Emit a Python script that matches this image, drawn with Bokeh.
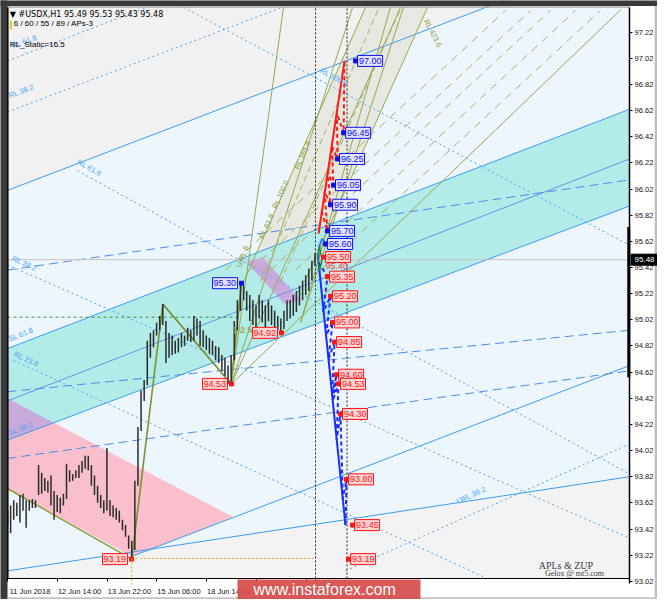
import math
from bokeh.plotting import figure
from bokeh.models import Range1d, FixedTicker, Label
from bokeh.core.properties import value
from bokeh.embed import file_html
from bokeh.resources import INLINE

# ---------------- data (x = H1 bar index from the chart's left edge, y = price) ----------------
bar_idx = list(range(0, 200, 2))
bar_high = [93.56, 93.60, 93.64, 93.62, 93.68, 93.69, 93.64, 93.64, 93.65, 93.64,
            93.91, 93.85, 93.81, 93.79, 93.83, 93.71, 93.68, 93.66, 93.69, 93.92,
            93.87, 93.84, 93.87, 93.91, 93.94, 93.98, 93.98, 93.91, 93.83, 93.75,
            93.68, 93.64, 94.04, 93.64, 93.60, 93.58, 93.56, 93.49, 93.45, 93.37,
            93.33, 93.79, 94.20, 94.48, 94.56, 94.86, 94.92, 94.94, 95.00, 95.05,
            95.14, 95.01, 94.92, 94.90, 94.86, 94.88, 94.92, 94.90, 94.96, 94.94,
            95.05, 95.03, 95.01, 94.94, 94.90, 94.88, 94.86, 94.82, 94.81, 94.75,
            94.73, 94.67, 94.75, 95.01, 95.17, 95.31, 95.28, 95.24, 95.21, 95.17,
            95.13, 95.21, 95.17, 95.13, 95.17, 95.13, 95.09, 95.05, 95.03, 95.09,
            95.17, 95.17, 95.21, 95.24, 95.28, 95.32, 95.36, 95.41, 95.47, 95.53]
bar_low = [93.45, 93.39, 93.49, 93.52, 93.47, 93.56, 93.43, 93.56, 93.58, 93.58,
           93.68, 93.69, 93.71, 93.70, 93.60, 93.49, 93.55, 93.54, 93.60, 93.65,
           93.78, 93.79, 93.81, 93.81, 93.85, 93.88, 93.87, 93.75, 93.68, 93.62,
           93.58, 93.54, 93.56, 93.52, 93.51, 93.49, 93.47, 93.41, 93.36, 93.27,
           93.19, 93.26, 93.75, 94.17, 94.40, 94.52, 94.73, 94.81, 94.90, 94.94,
           94.98, 94.69, 94.73, 94.75, 94.76, 94.77, 94.81, 94.82, 94.86, 94.85,
           94.86, 94.90, 94.82, 94.81, 94.79, 94.76, 94.75, 94.71, 94.69, 94.63,
           94.59, 94.53, 94.53, 94.71, 94.94, 95.09, 95.17, 95.09, 95.01, 94.98,
           94.94, 95.03, 95.00, 94.95, 95.01, 94.98, 94.95, 94.94, 94.92, 94.95,
           95.01, 95.03, 95.05, 95.08, 95.13, 95.17, 95.21, 95.24, 95.32, 95.43]

header_text = "\u25bc #USDX,H1  95.49 95.53 95.43 95.48"
last_close = 95.48

y_tick_labels = ["93.02", "93.22", "93.42", "93.62", "93.82", "94.02", "94.22", "94.42",
                 "94.62", "94.82", "95.02", "95.22", "95.42", "95.62", "95.82", "96.02",
                 "96.22", "96.42", "96.62", "96.82", "97.02", "97.22"]
x_tick_pos = [0.3, 32.2, 64.3, 96.2, 128.2, 160.2, 192.2]
x_tick_labels = ["11 Jun 2018", "12 Jun 14:00", "13 Jun 22:00", "15 Jun 06:00",
                 "18 Jun 14:00", "19 Jun 22:00", "21 Jun 06:00"]

# whole canvas in data units; the chart window itself spans 0..FRAME_RIGHT, FRAME_BOTTOM..FRAME_TOP
X_RANGE = (-4.507, 418.5)
Y_RANGE = (92.881, 97.462)
FRAME_RIGHT = 400.5
FRAME_BOTTOM = 93.042
FRAME_TOP = 97.412
PX_PER_BAR = 1.553

line_A = (0, 96.01, 400.5, 97.83)
line_E = (0, 93.10, 400.5, 93.82)
line_B = (0, 94.80, 400.5, 96.63)
line_C = (0, 94.10, 400.5, 95.89)
line_D = (0, 94.40, 400.5, 96.25)
line_F = (79.85, 93.21, 400.5, 94.67)
long_dash_lines = [(0, 95.40, 400.5, 96.09), (0, 94.47, 400.5, 94.94), (0, 93.96, 400.5, 94.63)]
dotted_lines = [(0, 97.00, 89.5, 97.41), (0, 96.61, 177, 97.41), (113.3, 97.41, 400.5, 95.59),
                (45.07, 96.16, 400.5, 93.84), (0, 95.44, 400.5, 93.35), (3.86, 94.71, 309.1, 93.04),
                (217.6, 93.10, 400.5, 94.07)]

pink_x = [0, 145.5, 79.85, 0]
pink_y = [94.42, 93.51, 93.21, 93.73]
lav1_x = [0, 0, 29.9]
lav1_y = [94.42, 94.10, 94.23]
lav2_x = [153.9, 164.2, 188.7, 178.4]
lav2_y = [95.46, 95.50, 95.17, 95.14]
band_x = [152.0, 230.5, 270.4, 191.2]
band_y = [95.31, 97.41, 97.41, 95.31]

zup_x = [0, 80, 100, 144, 150.7]
zup_y = [93.73, 93.19, 95.14, 94.53, 95.31]
pivot = (144.2, 94.53)
fan_top_x = [177.7, 222.2, 253.1, 394.7]
fan_top_y = [97.41, 97.41, 97.41, 97.39]
fan2_start = (188.7, 95.00)
fan2_top_x = [246.6, 255.0]
olive_dash_x0 = [140.4, 156.5, 169.4, 185.4, 201.5]
olive_dash_x1 = [320.7, 336.8, 349.6, 365.7, 381.8]
olive_dash_y0 = 95.40
olive_dash_y1 = 97.386
band_inner = [(162.9, 95.31, 238.9, 97.40), (175.8, 95.31, 253.1, 97.40)]

now_x = 198.3
target_x = 218.6
low_level = 93.195
low_x = 80

red_solid_x = [200.3, 217.0]
red_solid_y = [95.68, 97.00]
red_zz_x = [202.2, 206.05, 204.1, 208.0, 206.2, 209.9, 208.8, 212.5, 212.1, 216.4, 217.0]
red_zz_y = [95.85, 95.70, 96.00, 95.90, 96.15, 96.05, 96.35, 96.25, 96.60, 96.45, 97.00]
blue_solid_x = [200.3, 217.6]
blue_solid_y = [95.46, 93.45]
blue_zz_x = [200.3, 206.05, 203.2, 208.0, 205.1, 209.3, 206.7, 210.6, 209.0, 211.9, 209.4,
             213.1, 211.9, 214.4, 215.9, 218.3, 217.6]
blue_zz_y = [95.46, 95.35, 95.08, 95.20, 94.90, 95.00, 94.72, 94.85, 94.45, 94.60, 94.40,
             94.53, 94.10, 94.30, 93.65, 93.80, 93.45]

up_label_price = [97.00, 96.45, 96.25, 96.05, 95.90, 95.70, 95.60]
up_label_x = [224.1, 216.4, 212.5, 209.9, 208.0, 206.05, 204.8]
down_label_price = [95.50, 95.35, 95.20, 95.00, 94.85, 94.60, 94.53, 94.30, 93.80, 93.45, 93.19]
down_label_x = [203.5, 206.05, 208.0, 209.3, 210.6, 211.9, 213.1, 214.4, 218.3, 222.2, 219.6]
left_blue_price = [95.30]
left_blue_x = [150.7]
left_red_price = [94.53, 94.92, 93.19]
left_red_x = [144.2, 176.4, 79.85]

blue_note_text = ["RL 61.8", "RL 38.2", "RL 61.8", "RL 100.0", "RL 38.2", "SL 61.8", "RL 23.6", "SL 38.2", "LWL 38.2"]
blue_note_x = [3.9, 2.0, 43.8, 200.3, 2.0, 2.0, 3.2, 2.0, 290.4]
blue_note_y = [97.08, 96.70, 96.20, 96.90, 95.46, 94.84, 94.73, 94.12, 93.60]
blue_note_angle = [0.36, 0.36, -0.5, -0.49, -0.41, 0.38, -0.43, 0.36, 0.41]
olive_note_text = ["RL 161.8", "RL 100.0", "RL 61.8", "UWL 6", "RL 423.6"]
olive_note_x = [188.7, 174.5, 166.1, 151.3, 272.0]
olive_note_y = [96.16, 95.86, 95.63, 95.41, 97.33]
olive_note_angle = [1.15, 1.15, 1.15, 1.2, -1.1]
olive_note_base = ["bottom", "bottom", "bottom", "bottom", "top"]

watermark_text = "www.instaforex.com"

# ---------------- figure ----------------
p = figure(width=657, height=599, output_backend="svg", toolbar_location=None,
           x_range=Range1d(*X_RANGE), y_range=Range1d(*Y_RANGE), y_axis_location="right",
           min_border_left=0, min_border_top=0, min_border_right=0, min_border_bottom=0)
p.grid.visible = False
p.background_fill_color = "#eef6fd"
p.border_fill_color = "white"
p.outline_line_color = None

yt = [float(s) for s in y_tick_labels]
p.yaxis.fixed_location = FRAME_RIGHT
p.yaxis.bounds = (93.0, FRAME_TOP)
p.yaxis.ticker = FixedTicker(ticks=yt)
p.yaxis.major_label_overrides = {v: s for v, s in zip(yt, y_tick_labels)}
p.yaxis.major_label_text_font = "Liberation Sans"
p.yaxis.major_label_text_font_size = "7.5px"
p.yaxis.major_label_text_color = "#111111"
p.yaxis.major_label_standoff = 2
p.yaxis.major_tick_in = 0
p.yaxis.major_tick_out = 3
p.yaxis.minor_tick_line_color = None
p.yaxis.axis_line_color = "black"
p.yaxis.axis_line_width = 1.5

label_centres = [t + 14.2 for t in x_tick_pos]
p.xaxis.fixed_location = FRAME_BOTTOM
p.xaxis.bounds = (0, FRAME_RIGHT)
p.xaxis.ticker = FixedTicker(ticks=label_centres, minor_ticks=x_tick_pos)
p.xaxis.major_label_overrides = {v: s for v, s in zip(label_centres, x_tick_labels)}
p.xaxis.major_label_text_font = "Liberation Sans"
p.xaxis.major_label_text_font_size = "7.5px"
p.xaxis.major_label_text_color = "#111111"
p.xaxis.major_label_standoff = 3
p.xaxis.major_tick_line_color = None
p.xaxis.minor_tick_in = 0
p.xaxis.minor_tick_out = 3
p.xaxis.minor_tick_line_color = "black"
p.xaxis.axis_line_color = "black"

Y_TOP = Y_RANGE[1] + 1
Y_BOT = Y_RANGE[0] - 1

# background zones
p.patch([line_A[0], line_A[2], line_A[2], line_A[0]], [line_A[1], line_A[3], Y_TOP, Y_TOP],
        fill_color="#f1f1f1", line_color=None)
p.patch([line_E[0], line_E[2], line_E[2], line_E[0]], [line_E[1], line_E[3], Y_BOT, Y_BOT],
        fill_color="#f3f3f3", line_color=None)
p.patch(band_x, band_y, fill_color="#e7e8e1", line_color=None)
p.patch(pink_x, pink_y, fill_color="#f9bfcc", line_color=None)
p.patch([line_B[0], line_B[2], line_C[2], line_C[0]], [line_B[1], line_B[3], line_C[3], line_C[1]],
        fill_color="#b2ebe8", line_color=None)
p.patch(lav1_x, lav1_y, fill_color="#c8aadc", line_color=None)
p.patch(lav2_x, lav2_y, fill_color="#c8aadc", line_color=None)

def seg(l, **kw):
    p.line([l[0], l[2]], [l[1], l[3]], **kw)

for l in (line_A, line_B, line_C, line_E, line_F):
    seg(l, line_color="#3d9cf0", line_width=1)
seg(line_D, line_color="#6b8fe6", line_width=1)
for l in long_dash_lines:
    seg(l, line_color="#4a8de8", line_width=1, line_dash="9 5")
for l in dotted_lines:
    seg(l, line_color="#4aa3f2", line_width=1, line_dash="2 3")

seg((zup_x[0], zup_y[0], zup_x[1], zup_y[1]), line_color="#8aa03c", line_width=1.5)
p.line(zup_x[1:], zup_y[1:], line_color="#7d9132", line_width=1.6)
for tx, ty in zip(fan_top_x, fan_top_y):
    seg((pivot[0], pivot[1], tx, ty), line_color="#94a84e", line_width=1)
for tx in fan2_top_x:
    seg((fan2_start[0], fan2_start[1], tx, FRAME_TOP), line_color="#94a84e", line_width=1)
seg((band_x[0], band_y[0], band_x[1], band_y[1]), line_color="#94a84e", line_width=1)
seg((band_x[3], band_y[3], band_x[2], band_y[2]), line_color="#94a84e", line_width=1)
for l in band_inner:
    seg(l, line_color="#a3b060", line_width=1, line_dash="6 4")
for x0, x1 in zip(olive_dash_x0, olive_dash_x1):
    seg((x0, olive_dash_y0, x1, olive_dash_y1), line_color="#a3b060", line_width=1, line_dash="8 6")

p.line([0, 150], [95.04, 95.04], line_color="#3c8c3c", line_width=1, line_dash="3 3")
p.line([0, FRAME_RIGHT], [last_close, last_close], line_color="#c4c4c4", line_width=1)
p.line([low_x, now_x], [low_level, low_level], line_color="#f0a030", line_width=1, line_dash="2 2")
p.line([now_x, now_x], [FRAME_BOTTOM, Y_TOP], line_color="#222222", line_width=1, line_dash="2 2")
p.line([target_x, target_x], [FRAME_BOTTOM, Y_TOP], line_color="#222222", line_width=1, line_dash="2 2")

# price bars
p.segment(x0=bar_idx, y0=bar_low, x1=bar_idx, y1=bar_high, line_color="#2b2b2b", line_width=1.5)

# projections
p.line(red_solid_x, red_solid_y, line_color="#ff1a1a", line_width=2)
p.line(red_zz_x, red_zz_y, line_color="#ff1a1a", line_width=2, line_dash="4 3")
p.line(blue_solid_x, blue_solid_y, line_color="#1a2cff", line_width=2)
p.line(blue_zz_x, blue_zz_y, line_color="#1a2cff", line_width=2, line_dash="4 3")
p.line([200.3, 200.6, 202.5, 204.8], [95.46, 95.58, 95.64, 95.61], line_color="#1a6cff", line_width=1.5)
p.line([199.5, 201.0, 202.5, 201.0, 199.5], [95.50, 95.58, 95.47, 95.40, 95.50], line_color="#1e8c1e", line_width=1.2)

# rotated line notes
p.text(x=blue_note_x, y=blue_note_y, text=blue_note_text, angle=blue_note_angle,
       text_font=value("Liberation Sans"), text_font_size="7.5px", text_color="#4aa3f2",
       text_baseline="bottom")
p.text(x=olive_note_x, y=olive_note_y, text=olive_note_text, angle=olive_note_angle,
       text_font=value("Liberation Sans"), text_font_size="7.5px", text_color="#8a9a3a",
       text_baseline=olive_note_base)
p.text(x=[144.9], y=[94.94], text=["1.2 M"], text_font=value("Liberation Sans"),
       text_font_size="9px", text_font_style="bold", text_color="#9aaa50", text_baseline="middle")
p.text(x=[204.8], y=[95.43], text=["95.40"], text_font=value("Liberation Sans"),
       text_font_size="9px", text_color="#ff4040", text_baseline="middle")

# price boxes: marker + framed text
BOX_W, BOX_H = 25, 11
def boxes(xs, ys, color, fill, side):
    texts = ["%.2f" % v for v in ys]
    if side == "right":
        cx = [x + (2 + BOX_W / 2) / PX_PER_BAR for x in xs]
        tx = [x + 3.5 / PX_PER_BAR for x in xs]
        align = "left"
    else:
        cx = [x - (4 + BOX_W / 2) / PX_PER_BAR for x in xs]
        tx = [x - 5.5 / PX_PER_BAR for x in xs]
        align = "right"
    p.rect(x=cx, y=ys, width=BOX_W, height=BOX_H, width_units="screen", height_units="screen",
           fill_color=fill, line_color=color, line_width=1)
    p.text(x=tx, y=ys, text=texts, text_align=align, text_baseline="middle",
           text_font=value("Liberation Sans"), text_font_size="9px", text_color=color)
    p.scatter(xs, ys, marker="square", size=4, fill_color=color, line_color=color)

boxes(up_label_x, up_label_price, "#1010ee", "#e2e4ff", "right")
boxes(down_label_x, down_label_price, "#ff1515", "#ffd4d4", "right")
boxes(left_blue_x, left_blue_price, "#1010ee", "#e2e4ff", "left")
boxes(left_red_x, left_red_price, "#ff1515", "#ffd4d4", "left")

# window frame and axis areas
XL, XR = X_RANGE[0] - 5, X_RANGE[1] + 5
p.patch([FRAME_RIGHT, XR, XR, FRAME_RIGHT], [Y_BOT, Y_BOT, Y_TOP, Y_TOP], fill_color="white", line_color=None)
p.patch([XL, FRAME_RIGHT, FRAME_RIGHT, XL], [Y_BOT, Y_BOT, FRAME_BOTTOM, FRAME_BOTTOM],
        fill_color="white", line_color=None)
p.patch([XL, 0, 0, XL], [Y_BOT, Y_BOT, Y_TOP, Y_TOP], fill_color="#3a3a3a", line_color=None)
p.patch([XL, XR, XR, XL], [FRAME_TOP + 0.008, FRAME_TOP + 0.008, Y_TOP, Y_TOP], fill_color="#3a3a3a", line_color=None)
p.patch([416.7, XR, XR, 416.7], [Y_BOT, Y_BOT, FRAME_TOP + 0.008, FRAME_TOP + 0.008], fill_color="#bdbdbd", line_color=None)
p.patch([0, XR, XR, 0], [Y_BOT, Y_BOT, 92.898, 92.898], fill_color="#c4c4c4", line_color=None)
p.line([0.2, 0.2], [FRAME_BOTTOM, FRAME_TOP], line_color="black", line_width=1.5)
p.line([0, FRAME_RIGHT], [FRAME_TOP, FRAME_TOP], line_color="#8a8a8a", line_width=1)
p.line([FRAME_RIGHT - 0.5, FRAME_RIGHT - 0.5], [94.58, 95.73], line_color="black", line_width=3)
p.line([low_x, low_x], [low_level, 92.98], line_color="#f0a030", line_width=1, line_dash="2 2")
p.line([now_x, now_x], [92.99, FRAME_BOTTOM], line_color="#222222", line_width=1, line_dash="2 2")

# current price tag on the axis
p.rect(x=[FRAME_RIGHT + 15 / PX_PER_BAR], y=[last_close], width=27, height=11,
       width_units="screen", height_units="screen", fill_color="black", line_color="black", level="overlay")
p.text(x=[FRAME_RIGHT + 15 / PX_PER_BAR], y=[last_close], text=["%.2f" % last_close], text_align="center",
       text_baseline="middle", text_font=value("Liberation Sans"), text_font_size="8px",
       text_color="white", level="overlay")

# watermark
p.rect(x=[207.0], y=[92.923], width=183, height=29, width_units="screen", height_units="screen",
       fill_color="#d64b4b", fill_alpha=0.93, line_color=None, level="overlay")
p.text(x=[158.4], y=[92.958], text=[watermark_text], text_align="left", text_baseline="middle",
       text_font=value("Liberation Sans"), text_font_size="16px", text_color="white", level="overlay")

def lab(**kw):
    p.add_layout(Label(**kw))

lab(x=1.5, y=97.392, text=header_text, text_baseline="top", text_font="DejaVu Sans",
    text_font_size="8px", text_color="black")
lab(x=4.0, y=97.318, text="6 / 60 / 55 / 89 / APs-3", text_baseline="top",
    text_font="Liberation Sans", text_font_size="8px", text_color="black")
p.line([2.2, 2.2], [97.305, 97.24], line_color="#e0c030", line_width=2)
lab(x=1.5, y=97.16, text="RL_Static=16.5", text_baseline="top", text_font="Liberation Sans",
    text_font_size="8px", text_color="black")
lab(x=342.0, y=93.10, text="APLs & ZUP", text_baseline="bottom", text_font="Liberation Serif",
    text_font_size="10px", text_color="#3a3a4a")
lab(x=346.0, y=93.045, text="Gelox @ mt5.com", text_baseline="bottom", text_font="Liberation Serif",
    text_font_size="8px", text_color="#3a3a4a")

open("out.html", "w").write(file_html(p, INLINE))
